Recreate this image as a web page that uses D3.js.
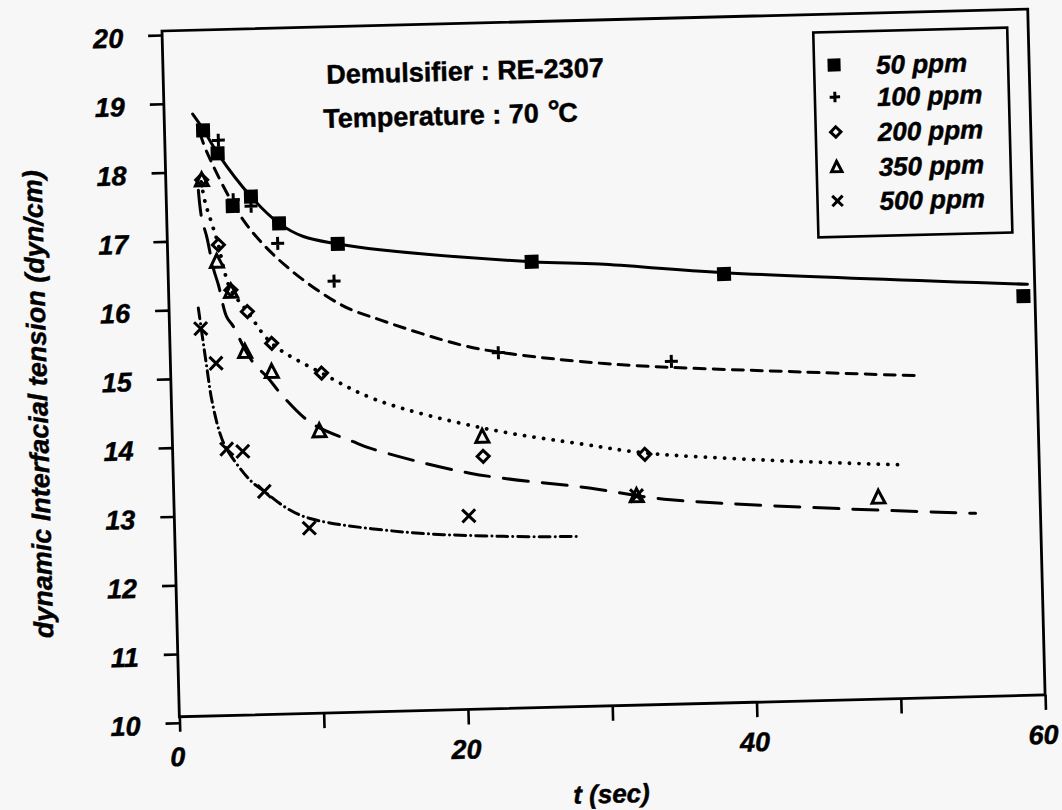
<!DOCTYPE html>
<html>
<head>
<meta charset="utf-8">
<script src="https://cdn.jsdelivr.net/npm/d3@7"></script>
<style>
  body { margin: 0; background: #f7f7f7; }
  svg { display: block; }
  text { font-family: "Liberation Sans", Arial, Helvetica, sans-serif; font-weight: bold; fill: #000; stroke: #000; stroke-width: 0.45px; }
</style>
</head>
<body>
<svg id="chart" width="1062" height="810"></svg>
<script>
// Axis ticks
const xTicks = [0, 10, 20, 30, 40, 50, 60];
const xTickLabels = ["0", "", "20", "", "40", "", "60"];
const yTicks = [10, 11, 12, 13, 14, 15, 16, 17, 18, 19, 20];

// Demulsifier concentrations
const concentrations = ["50 ppm", "100 ppm", "200 ppm", "350 ppm", "500 ppm"];

// Measured interfacial tension (dyn/cm) vs time (sec)
const t50  = [2.67, 3.64, 4.59, 5.87, 7.77, 11.8, 25.2, 38.5, 59.2];
const ift50 = [18.60, 18.26, 17.49, 17.62, 17.22, 16.90, 16.57, 16.32, 15.89];
const t100  = [3.71, 4.64, 5.86, 7.64, 11.48, 22.73, 34.7];
const ift100 = [18.45, 17.58, 17.48, 16.93, 16.36, 15.26, 15.07];
const t200  = [2.49, 3.53, 4.32, 5.42, 7.05, 10.45, 21.5, 32.7];
const ift200 = [17.88, 16.93, 16.27, 15.95, 15.48, 15.03, 13.76, 13.73];
const t350  = [2.49, 3.39, 4.32, 5.19, 7.0, 10.2, 21.47, 32.06, 48.8];
const ift350 = [17.88, 16.69, 16.25, 15.37, 15.07, 14.19, 14.05, 13.13, 13.02];
const t500  = [2.16, 3.16, 3.75, 4.86, 6.28, 9.33, 20.4, 32.06];
const ift500 = [15.72, 15.21, 13.96, 13.92, 13.33, 12.78, 12.90, 13.13];

// Fitted decay curves
const fitT50  = [1.98, 2.67, 3.64, 5.87, 7.77, 9.43, 11.8, 14.7, 25.2, 29.9, 38.5, 59.5];
const fitIft50 = [18.84, 18.62, 18.26, 17.62, 17.22, 17.02, 16.90, 16.80, 16.57, 16.51, 16.34, 16.06];
const fitT100  = [2.45, 2.88, 5.3, 8.11, 11.96, 14.6, 20.1, 22.73, 30.7, 43.6, 51.9];
const fitIft100 = [18.56, 18.29, 17.28, 16.61, 16.01, 15.78, 15.39, 15.27, 15.05, 14.87, 14.77];
const fitT200  = [2.45, 2.68, 3.1, 3.53, 3.94, 4.32, 5.42, 7.05, 10.45, 14.2, 21.55, 28.7, 32.7, 41.1, 50.7];
const fitIft200 = [17.85, 17.56, 17.25, 16.93, 16.51, 16.27, 15.95, 15.48, 15.03, 14.62, 14.17, 13.89, 13.75, 13.60, 13.48];
const fitT350  = [2.24, 2.42, 2.74, 3.14, 3.46, 3.98, 4.42, 5.19, 5.86, 6.65, 7.76, 9.69, 12.53, 13.67, 20.55, 28.8, 34.4, 55.5];
const fitIft350 = [17.73, 17.32, 17.05, 16.59, 16.35, 15.88, 15.74, 15.40, 15.17, 15.00, 14.70, 14.30, 14.02, 13.92, 13.52, 13.26, 13.06, 12.75];
const fitT500  = [2.03, 2.51, 2.8, 3.31, 3.75, 5.31, 6.28, 7.8, 9.4, 15.83, 22.75, 27.95];
const fitIft500 = [16.02, 15.16, 14.68, 14.19, 13.96, 13.50, 13.33, 13.08, 12.92, 12.69, 12.59, 12.56];

// ---- drawing ----
const W = 866, H = 686;
const x = d3.scaleLinear().domain([0, 60]).range([0, W]);
const y = d3.scaleLinear().domain([10, 20]).range([692, 4]);

const svg = d3.select("#chart");
svg.append("rect").attr("width", 1062).attr("height", 810).attr("fill", "#f7f7f7");

// the whole figure sits slightly tilted on the page
const g = svg.append("g").attr("transform", "translate(162,31) rotate(-1.45)");

const symbolPaths = {
  square:   s => `M${-s},${-s}H${s}V${s}H${-s}Z`,
  plus:     s => `M${-s},0H${s}M0,${-s}V${s}`,
  diamond:  s => `M0,${-s}L${s},0L0,${s}L${-s},0Z`,
  triangle: s => `M0,${-s * 1.1}L${s},${s * 0.9}L${-s},${s * 0.9}Z`,
  cross:    s => `M${-s},${-s}L${s},${s}M${-s},${s}L${s},${-s}`
};

const series = [
  { name: concentrations[0], t: t50,  v: ift50,  ft: fitT50,  fv: fitIft50,  sym: "square",   size: 7,   dash: null },
  { name: concentrations[1], t: t100, v: ift100, ft: fitT100, fv: fitIft100, sym: "plus",     size: 6.5, dash: "11 8" },
  { name: concentrations[2], t: t200, v: ift200, ft: fitT200, fv: fitIft200, sym: "diamond",  size: 6,   dash: "0.1 9.5" },
  { name: concentrations[3], t: t350, v: ift350, ft: fitT350, fv: fitIft350, sym: "triangle", size: 6.5, dash: "25 14" },
  { name: concentrations[4], t: t500, v: ift500, ft: fitT500, fv: fitIft500, sym: "cross",    size: 6.5, dash: "11 5 0.1 5" }
];

const labelFont = sel => sel
  .style("font-size", "27px").style("font-style", "italic").style("font-weight", "bold")
  .style("font-family", '"Liberation Sans", Arial, sans-serif')
  .style("stroke", "#000").style("stroke-width", "0.45px");

// frame
g.append("rect").attr("x", 0).attr("y", 0).attr("width", W).attr("height", H)
  .attr("fill", "none").attr("stroke", "#000").attr("stroke-width", 2.8);

// y axis
const yAxis = g.append("g").call(
  d3.axisLeft(y).tickValues(yTicks).tickSize(14).tickPadding(25).tickFormat(d3.format("d"))
);
yAxis.select(".domain").remove();
yAxis.selectAll("line").attr("stroke", "#000").attr("stroke-width", 2.6);
yAxis.selectAll("text").attr("dy", "0.41em").call(labelFont);

// x axis
const xAxis = g.append("g").attr("transform", `translate(0,${H})`).call(
  d3.axisBottom(x).tickValues(xTicks).tickSize(15).tickPadding(15)
    .tickFormat((d, i) => xTickLabels[i])
);
xAxis.select(".domain").remove();
xAxis.selectAll("line").attr("stroke", "#000").attr("stroke-width", 2.6);
xAxis.selectAll("text").attr("dx", -3).call(labelFont);

// axis titles
g.append("text").attr("x", x(30) - 3).attr("y", 783).attr("text-anchor", "middle")
  .style("font-size", "26px").style("font-style", "italic").text("t (sec)");
g.append("text").attr("transform", "translate(-124,370) rotate(-90)").attr("text-anchor", "middle")
  .style("font-size", "27px").style("font-style", "italic").text("dynamic Interfacial tension (dyn/cm)");

// fitted curves
const line = d3.line()
  .x(d => x(d[0])).y(d => y(d[1]))
  .curve(d3.curveCatmullRom.alpha(0.5));

series.forEach(s => {
  const pts = s.ft.map((t, i) => [t, s.fv[i]]);
  g.append("path").attr("d", line(pts))
    .attr("fill", "none").attr("stroke", "#000")
    .attr("stroke-width", s.sym === "diamond" ? 3.8 : 3)
    .attr("stroke-linecap", "round")
    .attr("stroke-dasharray", s.dash);
});

// markers
function drawMarker(sel, s, size) {
  sel.append("path").attr("d", symbolPaths[s.sym](size))
    .attr("fill", s.sym === "square" ? "#000" : "none")
    .attr("stroke", "#000")
    .attr("stroke-width", s.sym === "square" ? 0 : 3)
    .attr("stroke-linejoin", "miter");
}
series.forEach(s => {
  s.t.forEach((t, i) => {
    const m = g.append("g").attr("transform", `translate(${x(t)},${y(s.v[i])})`);
    drawMarker(m, s, s.size);
  });
});

// title block
g.append("text").attr("x", 163).attr("y", 57).style("font-size", "27px").text("Demulsifier : RE-2307");
const t2 = g.append("text").attr("x", 159).attr("y", 101).style("font-size", "27px");
t2.append("tspan").text("Temperature : 70 ");
t2.append("tspan").style("font-style", "italic").style("font-size", "30px").attr("dy", -1).text("°");
t2.append("tspan").attr("dy", 1).text("C");

// legend
const legend = g.append("g").attr("transform", "translate(651,18)");
legend.append("rect").attr("width", 194).attr("height", 205)
  .attr("fill", "#f7f7f7").attr("stroke", "#000").attr("stroke-width", 2.6);
const rowY = [33, 65, 100, 135, 169];
series.forEach((s, i) => {
  const r = legend.append("g").attr("transform", `translate(20,${rowY[i]})`);
  drawMarker(r, s, s.sym === "square" ? 6.5 : 5.2);
  r.append("text").attr("x", 42).attr("y", 10)
    .style("font-size", "26px").style("font-style", "italic").text(s.name);
});
</script>
</body>
</html>
